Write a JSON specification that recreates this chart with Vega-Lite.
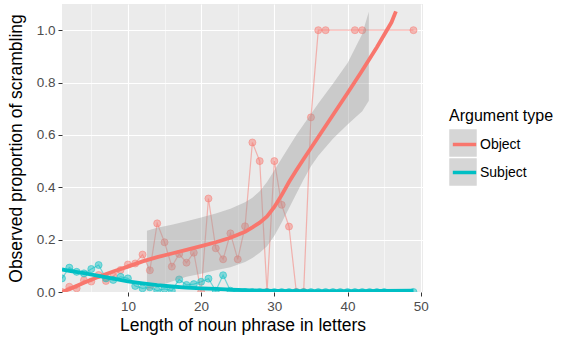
{
  "$schema": "https://vega.github.io/schema/vega-lite/v6.json",
  "width": 361,
  "height": 288,
  "autosize": {"type": "none"},
  "padding": {"left": 62, "top": 4, "right": 143, "bottom": 48},
  "background": "white",
  "config": {
    "font": "Liberation Sans",
    "view": {"fill": "#EBEBEB", "stroke": null},
    "axis": {
      "domain": false,
      "gridColor": "white",
      "tickColor": "#333333",
      "tickSize": 4,
      "labelPadding": 3,
      "labelColor": "#4D4D4D",
      "labelFontSize": 13.5,
      "titleFontSize": 17.5,
      "titleFontWeight": "normal",
      "titleColor": "black"
    }
  },
  "datasets": {
    "pts": [
      {"type": "Object", "len": 1, "prop": 0},
      {"type": "Object", "len": 2, "prop": 0.02},
      {"type": "Object", "len": 3, "prop": 0.014},
      {"type": "Object", "len": 4, "prop": 0.045},
      {"type": "Object", "len": 5, "prop": 0.04},
      {"type": "Object", "len": 6, "prop": 0.065},
      {"type": "Object", "len": 7, "prop": 0.042},
      {"type": "Object", "len": 8, "prop": 0.06},
      {"type": "Object", "len": 9, "prop": 0.084},
      {"type": "Object", "len": 10, "prop": 0.105},
      {"type": "Object", "len": 11, "prop": 0.109},
      {"type": "Object", "len": 12, "prop": 0.143},
      {"type": "Object", "len": 13, "prop": 0.083},
      {"type": "Object", "len": 14, "prop": 0.262},
      {"type": "Object", "len": 15, "prop": 0.19},
      {"type": "Object", "len": 16, "prop": 0.097},
      {"type": "Object", "len": 17, "prop": 0.145},
      {"type": "Object", "len": 18, "prop": 0.112},
      {"type": "Object", "len": 19, "prop": 0.15},
      {"type": "Object", "len": 20, "prop": 0},
      {"type": "Object", "len": 21, "prop": 0.357},
      {"type": "Object", "len": 22, "prop": 0.167},
      {"type": "Object", "len": 23, "prop": 0.125},
      {"type": "Object", "len": 24, "prop": 0.224},
      {"type": "Object", "len": 25, "prop": 0.125},
      {"type": "Object", "len": 26, "prop": 0.251},
      {"type": "Object", "len": 27, "prop": 0.571},
      {"type": "Object", "len": 28, "prop": 0.5},
      {"type": "Object", "len": 29, "prop": 0},
      {"type": "Object", "len": 30, "prop": 0.5},
      {"type": "Object", "len": 31, "prop": 0.333},
      {"type": "Object", "len": 32, "prop": 0.25},
      {"type": "Object", "len": 33, "prop": 0},
      {"type": "Object", "len": 34, "prop": 0},
      {"type": "Object", "len": 35, "prop": 0.667},
      {"type": "Object", "len": 36, "prop": 1},
      {"type": "Object", "len": 37, "prop": 1},
      {"type": "Object", "len": 41, "prop": 1},
      {"type": "Object", "len": 42, "prop": 1},
      {"type": "Object", "len": 49, "prop": 1},
      {"type": "Subject", "len": 1, "prop": 0.052},
      {"type": "Subject", "len": 2, "prop": 0.093},
      {"type": "Subject", "len": 3, "prop": 0.077},
      {"type": "Subject", "len": 4, "prop": 0.071},
      {"type": "Subject", "len": 5, "prop": 0.088},
      {"type": "Subject", "len": 6, "prop": 0.103},
      {"type": "Subject", "len": 7, "prop": 0.052},
      {"type": "Subject", "len": 8, "prop": 0.046},
      {"type": "Subject", "len": 9, "prop": 0.058},
      {"type": "Subject", "len": 10, "prop": 0.052},
      {"type": "Subject", "len": 11, "prop": 0.023},
      {"type": "Subject", "len": 12, "prop": 0.014},
      {"type": "Subject", "len": 13, "prop": 0.018},
      {"type": "Subject", "len": 14, "prop": 0.005},
      {"type": "Subject", "len": 15, "prop": 0.012},
      {"type": "Subject", "len": 16, "prop": 0.005},
      {"type": "Subject", "len": 17, "prop": 0.048},
      {"type": "Subject", "len": 18, "prop": 0.027},
      {"type": "Subject", "len": 19, "prop": 0.03},
      {"type": "Subject", "len": 20, "prop": 0.039},
      {"type": "Subject", "len": 21, "prop": 0.051},
      {"type": "Subject", "len": 22, "prop": 0.005},
      {"type": "Subject", "len": 23, "prop": 0.064},
      {"type": "Subject", "len": 24, "prop": 0.005},
      {"type": "Subject", "len": 25, "prop": 0},
      {"type": "Subject", "len": 26, "prop": 0},
      {"type": "Subject", "len": 27, "prop": 0},
      {"type": "Subject", "len": 28, "prop": 0},
      {"type": "Subject", "len": 29, "prop": 0},
      {"type": "Subject", "len": 30, "prop": 0},
      {"type": "Subject", "len": 31, "prop": 0},
      {"type": "Subject", "len": 32, "prop": 0},
      {"type": "Subject", "len": 33, "prop": 0},
      {"type": "Subject", "len": 34, "prop": 0},
      {"type": "Subject", "len": 35, "prop": 0},
      {"type": "Subject", "len": 36, "prop": 0},
      {"type": "Subject", "len": 37, "prop": 0},
      {"type": "Subject", "len": 38, "prop": 0},
      {"type": "Subject", "len": 39, "prop": 0},
      {"type": "Subject", "len": 40, "prop": 0},
      {"type": "Subject", "len": 41, "prop": 0},
      {"type": "Subject", "len": 42, "prop": 0},
      {"type": "Subject", "len": 43, "prop": 0},
      {"type": "Subject", "len": 44, "prop": 0},
      {"type": "Subject", "len": 45, "prop": 0},
      {"type": "Subject", "len": 49, "prop": 0}
    ],
    "smooth": [
      {"type": "Object", "len": 1, "fit": 0.0},
      {"type": "Object", "len": 2, "fit": 0.011},
      {"type": "Object", "len": 4, "fit": 0.035},
      {"type": "Object", "len": 6, "fit": 0.058},
      {"type": "Object", "len": 8, "fit": 0.078},
      {"type": "Object", "len": 10, "fit": 0.097},
      {"type": "Object", "len": 12, "fit": 0.117},
      {"type": "Object", "len": 14, "fit": 0.133},
      {"type": "Object", "len": 16, "fit": 0.147},
      {"type": "Object", "len": 18, "fit": 0.161},
      {"type": "Object", "len": 20, "fit": 0.175},
      {"type": "Object", "len": 22, "fit": 0.19},
      {"type": "Object", "len": 24, "fit": 0.207},
      {"type": "Object", "len": 26, "fit": 0.23},
      {"type": "Object", "len": 27, "fit": 0.247},
      {"type": "Object", "len": 28, "fit": 0.265},
      {"type": "Object", "len": 29, "fit": 0.289},
      {"type": "Object", "len": 30, "fit": 0.325},
      {"type": "Object", "len": 31, "fit": 0.37},
      {"type": "Object", "len": 32, "fit": 0.42},
      {"type": "Object", "len": 33, "fit": 0.465},
      {"type": "Object", "len": 34, "fit": 0.508},
      {"type": "Object", "len": 35, "fit": 0.55},
      {"type": "Object", "len": 36, "fit": 0.592},
      {"type": "Object", "len": 38, "fit": 0.676},
      {"type": "Object", "len": 40, "fit": 0.76},
      {"type": "Object", "len": 42, "fit": 0.846},
      {"type": "Object", "len": 44, "fit": 0.935},
      {"type": "Object", "len": 46, "fit": 1.03},
      {"type": "Object", "len": 46.6, "fit": 1.072},
      {"type": "Subject", "len": 1, "fit": 0.086},
      {"type": "Subject", "len": 2, "fit": 0.081},
      {"type": "Subject", "len": 4, "fit": 0.072},
      {"type": "Subject", "len": 6, "fit": 0.062},
      {"type": "Subject", "len": 8, "fit": 0.051},
      {"type": "Subject", "len": 10, "fit": 0.041},
      {"type": "Subject", "len": 12, "fit": 0.033},
      {"type": "Subject", "len": 14, "fit": 0.026},
      {"type": "Subject", "len": 16, "fit": 0.021},
      {"type": "Subject", "len": 18, "fit": 0.017},
      {"type": "Subject", "len": 20, "fit": 0.014},
      {"type": "Subject", "len": 22, "fit": 0.012},
      {"type": "Subject", "len": 24, "fit": 0.009},
      {"type": "Subject", "len": 26, "fit": 0.007},
      {"type": "Subject", "len": 28, "fit": 0.005},
      {"type": "Subject", "len": 30, "fit": 0.004},
      {"type": "Subject", "len": 35, "fit": 0.003},
      {"type": "Subject", "len": 40, "fit": 0.003},
      {"type": "Subject", "len": 45, "fit": 0.004},
      {"type": "Subject", "len": 49, "fit": 0.005}
    ],
    "band": [
      {"type": "Object", "len": 12.6, "lo": 0.005, "hi": 0.234},
      {"type": "Object", "len": 14, "lo": 0.02, "hi": 0.245},
      {"type": "Object", "len": 16, "lo": 0.04, "hi": 0.257},
      {"type": "Object", "len": 18, "lo": 0.058, "hi": 0.27},
      {"type": "Object", "len": 20, "lo": 0.07, "hi": 0.285},
      {"type": "Object", "len": 22, "lo": 0.083, "hi": 0.3},
      {"type": "Object", "len": 24, "lo": 0.095, "hi": 0.318},
      {"type": "Object", "len": 26, "lo": 0.115, "hi": 0.343},
      {"type": "Object", "len": 27, "lo": 0.13, "hi": 0.36},
      {"type": "Object", "len": 28, "lo": 0.15, "hi": 0.385},
      {"type": "Object", "len": 29, "lo": 0.175, "hi": 0.42},
      {"type": "Object", "len": 30, "lo": 0.215, "hi": 0.465},
      {"type": "Object", "len": 31, "lo": 0.265, "hi": 0.51},
      {"type": "Object", "len": 32, "lo": 0.32, "hi": 0.555},
      {"type": "Object", "len": 33, "lo": 0.375, "hi": 0.6},
      {"type": "Object", "len": 34, "lo": 0.43, "hi": 0.64},
      {"type": "Object", "len": 35, "lo": 0.48, "hi": 0.68},
      {"type": "Object", "len": 36, "lo": 0.52, "hi": 0.72},
      {"type": "Object", "len": 38, "lo": 0.585, "hi": 0.795},
      {"type": "Object", "len": 40, "lo": 0.64, "hi": 0.875},
      {"type": "Object", "len": 42, "lo": 0.69, "hi": 0.985},
      {"type": "Object", "len": 42.9, "lo": 0.73, "hi": 1.07}
    ]
  },
  "layer": [
    {
      "data": {"name": "pts"},
      "mark": {"type": "line", "strokeWidth": 1.2, "opacity": 0.5, "clip": true},
      "encoding": {
        "x": {
          "field": "len",
          "type": "quantitative",
          "scale": {"domain": [1, 50.3], "nice": false, "zero": false},
          "axis": {
            "values": [5, 10, 15, 20, 25, 30, 35, 40, 45, 50],
            "labelExpr": "datum.value % 10 === 0 ? datum.label : ''",
            "gridWidth": {"condition": {"test": "datum.value % 10 === 0", "value": 1.1}, "value": 0.5},
            "tickOpacity": {"condition": {"test": "datum.value % 10 === 0", "value": 1}, "value": 0},
            "title": "Length of noun phrase in letters",
            "titlePadding": 4
          }
        },
        "y": {
          "field": "prop",
          "type": "quantitative",
          "scale": {"domain": [0, 1.1], "nice": false},
          "axis": {
            "values": [0, 0.1, 0.2, 0.3, 0.4, 0.5, 0.6, 0.7, 0.8, 0.9, 1.0],
            "labelExpr": "round(datum.value * 10) % 2 === 0 ? format(datum.value, '.1f') : ''",
            "gridWidth": {"condition": {"test": "round(datum.value * 10) % 2 === 0", "value": 1.1}, "value": 0.5},
            "tickOpacity": {"condition": {"test": "round(datum.value * 10) % 2 === 0", "value": 1}, "value": 0},
            "title": "Observed proportion of scrambling",
            "titlePadding": 11
          }
        },
        "color": {
          "field": "type",
          "type": "nominal",
          "scale": {"range": ["#F8766D", "#00BFC4"]},
          "legend": {
            "orient": "none",
            "legendX": 387,
            "legendY": 104,
            "title": "Argument type",
            "titleFontSize": 16,
            "titleFontWeight": "normal",
            "titleColor": "black",
            "titlePadding": 5,
            "labelFontSize": 14,
            "labelColor": "black",
            "labelOffset": 0,
            "symbolType": "M-0.85,0H0.85",
            "symbolSize": 756,
            "symbolStrokeWidth": 3.5,
            "symbolOpacity": 1,
            "rowPadding": 5,
            "padding": 0,
            "zindex": 2
          }
        }
      }
    },
    {
      "data": {"name": "pts"},
      "mark": {"type": "point", "filled": true, "size": 50, "fillOpacity": 0.45, "strokeOpacity": 0.45, "strokeWidth": 1, "clip": true},
      "encoding": {
        "x": {"field": "len", "type": "quantitative"},
        "y": {"field": "prop", "type": "quantitative"},
        "color": {"field": "type", "type": "nominal"},
        "stroke": {"field": "type", "type": "nominal", "scale": {"range": ["#F8766D", "#00BFC4"]}, "legend": null}
      }
    },
    {
      "data": {"name": "band"},
      "mark": {"type": "area", "opacity": 0.4, "clip": true},
      "encoding": {
        "x": {"field": "len", "type": "quantitative"},
        "y": {"field": "lo", "type": "quantitative"},
        "y2": {"field": "hi"},
        "fill": {
          "field": "type",
          "type": "nominal",
          "scale": {"domain": ["Object", "Subject"], "range": ["#999999", "#999999"]},
          "legend": {
            "orient": "none",
            "legendX": 387,
            "legendY": 125,
            "title": null,
            "labelExpr": "''",
            "labelFontSize": 14,
            "symbolType": "square",
            "symbolSize": 756,
            "symbolStrokeWidth": 0,
            "symbolOpacity": 0.4,
            "rowPadding": 1,
            "padding": 0,
            "zindex": 1
          }
        }
      }
    },
    {
      "data": {"name": "smooth"},
      "mark": {"type": "line", "strokeWidth": 3.8, "clip": true},
      "encoding": {
        "x": {"field": "len", "type": "quantitative"},
        "y": {"field": "fit", "type": "quantitative"},
        "color": {"field": "type", "type": "nominal"}
      }
    }
  ]
}
